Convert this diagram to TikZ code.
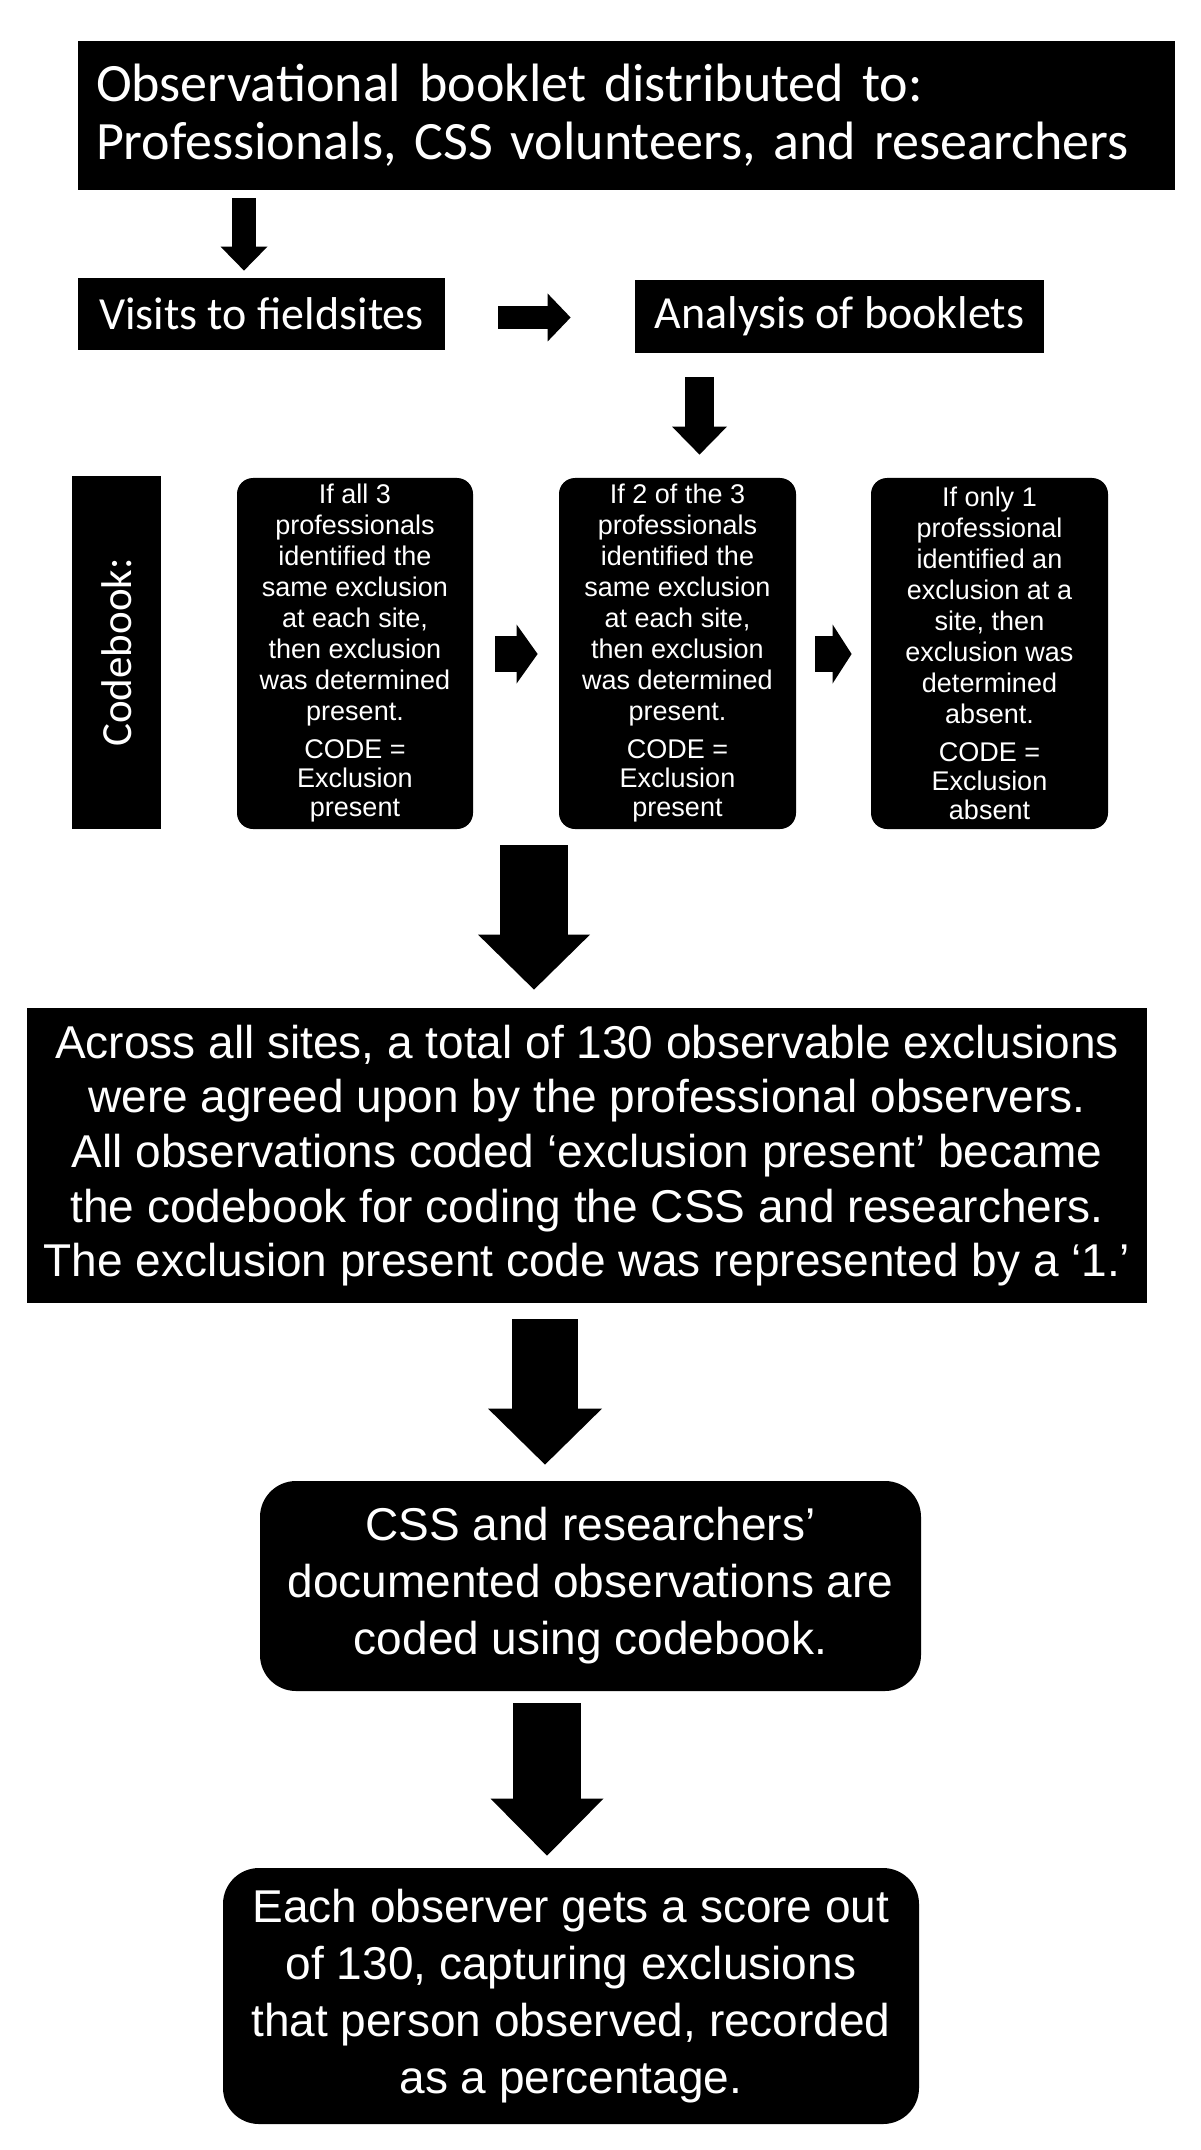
\documentclass[tikz,border=0pt]{standalone}
\usepackage{fontspec}
\setmainfont{Liberation Sans}
\newfontfamily\calibri{Carlito}
\usetikzlibrary{arrows.meta}

\def\boxfont{\fontsize{23}{28.5}\selectfont}
\def\rulefont{\fontsize{13.5}{15.5}\selectfont}
\def\codegap{3.5pt}
\def\codetight{-1pt}

\tikzset{
  box/.style={fill=black, text=white, inner sep=0pt, align=center},
  rbox/.style={box, rounded corners=#1},
  rulebox/.style={rbox=8pt, minimum width=118.5pt, minimum height=175.5pt, font=\rulefont},
  blockarrow/.style n args={3}{line width=#1, -{Triangle[width=#2, length=#3, line width=0pt]}},
}

\begin{document}
\begin{tikzpicture}[x=0.5pt, y=-0.5pt]
\path[use as bounding box, fill=white] (0,0) rectangle (1200,2150);

\node[box, minimum width=548.5pt, minimum height=74.5pt, text width=530.5pt, align=left,
  font=\calibri\fontsize{27}{29}\selectfont] (top) at (626.5,115.5)
  {Observational booklet distributed to:\\Professionals, CSS volunteers, and researchers};
\node[box, minimum width=183.5pt, minimum height=36pt, font=\calibri\fontsize{23}{27}\selectfont]
  (visits) at (261.5,314) {Visits to fieldsites};
\node[box, minimum width=204.5pt, minimum height=36.5pt, font=\calibri\fontsize{23}{27}\selectfont]
  (analysis) at (839.5,316.5) {Analysis of booklets};

\node[box, rotate=90, minimum width=176.5pt, minimum height=44.5pt, font=\calibri\fontsize{21.5}{25}\selectfont]
  (codebook) at (116.5,652.5) {Codebook:};
\node[rulebox, minimum width=118pt] (allthree) at (355,653.5)
  {If all 3\\professionals\\identified the\\same exclusion\\at each site,\\then exclusion\\was determined\\present.\\[\codegap]
   CODE =\\[\codetight]Exclusion\\[\codetight]present};
\node[rulebox] (twothree) at (677.5,653.5)
  {If 2 of the 3\\professionals\\identified the\\same exclusion\\at each site,\\then exclusion\\was determined\\present.\\[\codegap]
   CODE =\\[\codetight]Exclusion\\[\codetight]present};
\node[rulebox] (onlyone) at (989.5,653.5)
  {If only 1\\professional\\identified an\\exclusion at a\\site, then\\exclusion was\\determined\\absent.\\[\codegap]
   CODE =\\[\codetight]Exclusion\\[\codetight]absent};

\node[box, minimum width=560pt, minimum height=147.5pt, font=\fontsize{23}{27.3}\selectfont] (total) at (587,1155.5)
  {Across all sites, a total of 130 observable exclusions\\were agreed upon by the professional observers.\\
   All observations coded ‘exclusion present’ became\\the codebook for coding the CSS and researchers.\\
   The exclusion present code was represented by a ‘1.’};
\node[rbox=18pt, minimum width=330.5pt, minimum height=105pt, font=\boxfont] (coded) at (590.5,1586)
  {CSS and researchers’\\documented observations are\\coded using codebook.};
\node[rbox=18pt, minimum width=348pt, minimum height=128pt, font=\boxfont] (score) at (571,1996)
  {Each observer gets a score out\\of 130, capturing exclusions\\that person observed, recorded\\as a percentage.};

\coordinate (a1) at (244,0);
\coordinate (a2) at (0,317.5);
\coordinate (a3) at (699.5,0);
\coordinate (a4) at (0,654);
\coordinate (a6) at (534,0);
\coordinate (a7) at (545,0);
\coordinate (a8) at (547,0);

\draw[blockarrow={12pt}{23.5pt}{12pt}, shorten <=4pt, shorten >=3.5pt] (top.south -| a1) -- (visits.north -| a1);
\draw[blockarrow={11.5pt}{24pt}{11.5pt}, shorten <=26.5pt, shorten >=32pt] (visits.east |- a2) -- (analysis.west |- a2);
\draw[blockarrow={14.5pt}{27.5pt}{14pt}, shorten <=12pt, shorten >=11.5pt] (analysis.south -| a3) -- (twothree.north -| a3);
\draw[blockarrow={18pt}{29.5pt}{10.5pt}, shorten <=11pt, shorten >=10.5pt] (allthree.east |- a4) -- (twothree.west |- a4);
\draw[blockarrow={18pt}{29.5pt}{9.5pt}, shorten <=9.5pt, shorten >=9.5pt] (twothree.east |- a4) -- (onlyone.west |- a4);
\draw[blockarrow={34pt}{56pt}{27.5pt}, shorten <=8pt, shorten >=9pt] (twothree.south -| a6) -- (total.north -| a6);
\draw[blockarrow={33pt}{57pt}{28pt}, shorten <=8pt, shorten >=8pt] (total.south -| a7) -- (coded.north -| a7);
\draw[blockarrow={34pt}{56.5pt}{28.5pt}, shorten <=6pt, shorten >=6pt] (coded.south -| a8) -- (score.north -| a8);
\end{tikzpicture}
\end{document}
